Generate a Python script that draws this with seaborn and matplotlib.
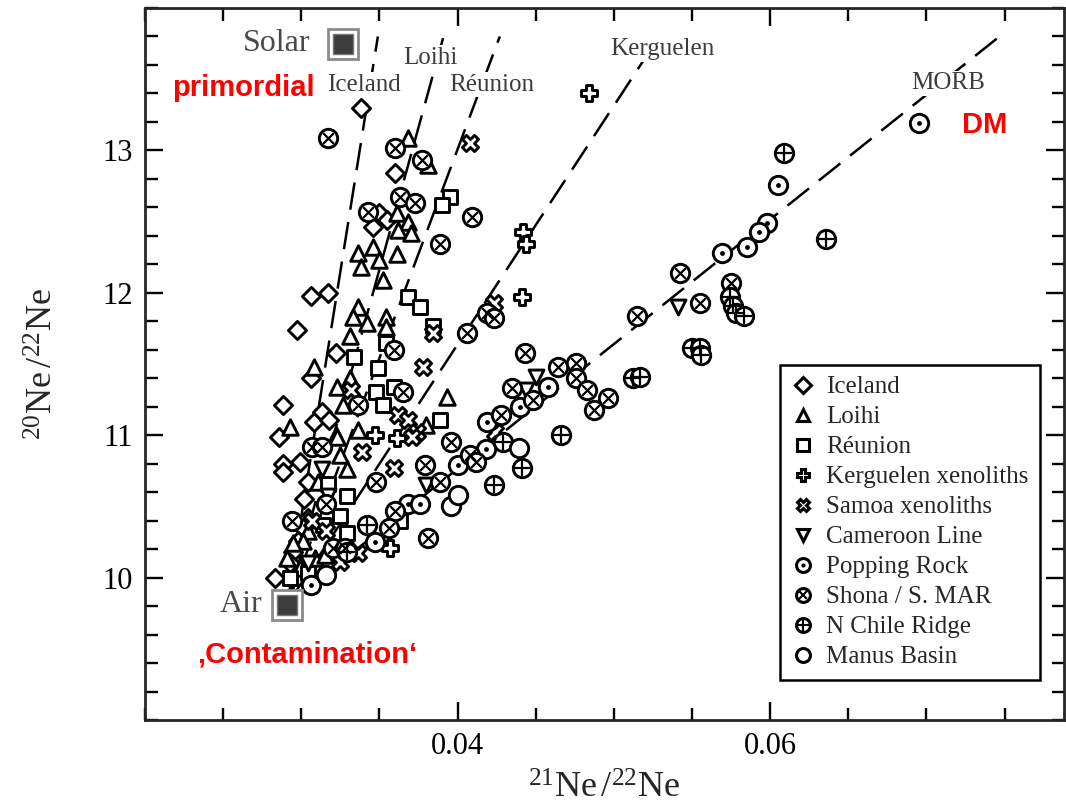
import numpy as np
import pandas as pd
import matplotlib
matplotlib.use("Agg")
import matplotlib.pyplot as plt
import seaborn as sns
from matplotlib.lines import Line2D
from matplotlib.ticker import FixedLocator, MultipleLocator

# neon isotope data: x = 21Ne/22Ne, y = 20Ne/22Ne
iceland_x = [0.0338, 0.0360, 0.0350, 0.0355, 0.0346, 0.0306, 0.0317, 0.0297, 0.0322, 0.0306, 0.0288, 0.0286, 0.0288,
             0.0288, 0.0308, 0.0313, 0.0318, 0.0299, 0.0304, 0.0302, 0.0304, 0.0301, 0.0298, 0.0295, 0.0293, 0.0283]
iceland_y = [13.30, 12.84, 12.56, 12.51, 12.46, 11.98, 12.00, 11.74, 11.58, 11.40, 11.21, 10.99, 10.80,
             10.74, 11.09, 11.16, 11.11, 10.81, 10.67, 10.55, 10.42, 10.35, 10.26, 10.18, 10.10, 10.00]

loihi_x = [0.0368, 0.0381, 0.0361, 0.0368, 0.0362, 0.0370, 0.0346, 0.0336, 0.0338, 0.0350, 0.0352, 0.0361, 0.0293,
           0.0308, 0.0336, 0.0333, 0.0342, 0.0354, 0.0354, 0.0331, 0.0323, 0.0331, 0.0327, 0.0322, 0.0336, 0.0393,
           0.0380, 0.0323, 0.0325, 0.0329, 0.0311, 0.0304, 0.0301, 0.0295, 0.0291, 0.0309, 0.0315, 0.0299]
loihi_y = [13.09, 12.90, 12.56, 12.50, 12.44, 12.42, 12.32, 12.28, 12.18, 12.23, 12.09, 12.27, 11.06,
           11.48, 11.90, 11.83, 11.79, 11.83, 11.76, 11.70, 11.34, 11.40, 11.21, 11.00, 11.04, 11.27,
           11.07, 10.99, 10.86, 10.76, 10.67, 10.33, 10.26, 10.24, 10.14, 10.14, 10.16, 10.07]

reunion_x = [0.0395, 0.0390, 0.0368, 0.0376, 0.0384, 0.0354, 0.0334, 0.0349, 0.0348, 0.0359, 0.0352, 0.0389, 0.0317,
             0.0329, 0.0325, 0.0314, 0.0329, 0.0293, 0.0304, 0.0363]
reunion_y = [12.67, 12.62, 11.97, 11.90, 11.77, 11.65, 11.55, 11.47, 11.30, 11.34, 11.21, 11.11, 10.66,
             10.57, 10.43, 10.37, 10.31, 10.00, 10.03, 10.40]

kerguelen_x = [0.0484, 0.0442, 0.0444, 0.0441, 0.0347, 0.0361, 0.0357]
kerguelen_y = [13.40, 12.43, 12.34, 11.97, 11.00, 10.98, 10.21]

samoa_x = [0.0408, 0.0384, 0.0378, 0.0423, 0.0332, 0.0362, 0.0368, 0.0374, 0.0371, 0.0339, 0.0359, 0.0307, 0.0316,
           0.0336, 0.0325, 0.0424]
samoa_y = [13.05, 11.72, 11.48, 11.93, 11.32, 11.14, 11.11, 11.02, 10.99, 10.88, 10.77, 10.40, 10.33,
           10.17, 10.11, 11.02]

cameroon_x = [0.0444, 0.0450, 0.0541, 0.0380, 0.0317, 0.0313, 0.0304]
cameroon_y = [11.32, 11.41, 11.90, 10.65, 10.57, 10.76, 10.10]

popping_x = [0.0695, 0.0605, 0.0598, 0.0593, 0.0585, 0.0569, 0.0458, 0.0440, 0.0419, 0.0418, 0.0400, 0.0368, 0.0376,
             0.0347, 0.0306]
popping_y = [13.19, 12.76, 12.49, 12.43, 12.32, 12.28, 11.34, 11.20, 11.09, 10.90, 10.79, 10.52, 10.52,
             10.25, 9.95]

shona_x = [0.0317, 0.0360, 0.0377, 0.0363, 0.0373, 0.0409, 0.0343, 0.0389, 0.0419, 0.0423, 0.0406, 0.0443, 0.0359,
           0.0365, 0.0336, 0.0348, 0.0379, 0.0389, 0.0396, 0.0428, 0.0435, 0.0448, 0.0464, 0.0476, 0.0476, 0.0483,
           0.0487, 0.0496, 0.0515, 0.0542, 0.0555, 0.0575, 0.0360, 0.0356, 0.0381, 0.0408, 0.0412, 0.0307, 0.0313,
           0.0316, 0.0294, 0.0320, 0.0328]
shona_y = [13.09, 13.02, 12.93, 12.67, 12.63, 12.53, 12.57, 12.34, 11.86, 11.82, 11.72, 11.58, 11.60,
           11.30, 11.21, 10.67, 10.79, 10.67, 10.95, 11.14, 11.33, 11.25, 11.48, 11.51, 11.40, 11.32,
           11.18, 11.26, 11.84, 12.14, 11.93, 12.07, 10.47, 10.35, 10.28, 10.86, 10.81, 10.92, 10.92,
           10.52, 10.40, 10.21, 10.21]

chile_x = [0.0609, 0.0636, 0.0574, 0.0576, 0.0578, 0.0583, 0.0550, 0.0555, 0.0556, 0.0512, 0.0517, 0.0466, 0.0429,
           0.0441, 0.0423, 0.0342, 0.0329]
chile_y = [12.98, 12.38, 11.97, 11.91, 11.86, 11.84, 11.61, 11.61, 11.56, 11.40, 11.41, 11.00, 10.95,
           10.77, 10.65, 10.37, 10.18]

manus_x = [0.0439, 0.0396, 0.0400, 0.0316]
manus_y = [10.91, 10.50, 10.58, 10.02]

# end members and mixing lines
air = (0.0291, 9.81)
solar = (0.0327, 13.75)
line_names = ["Iceland", "Loihi", "Réunion", "Kerguelen", "MORB"]
line_end_x = [0.0349, 0.0391, 0.0427, 0.0529, 0.0749]
line_end_y = [13.80, 13.80, 13.80, 13.80, 13.82]
line_label_x = [0.0340, 0.03825, 0.0422, 0.0531, 0.0714]
line_label_y = [13.46, 13.65, 13.46, 13.71, 13.47]

groups = ["Iceland", "Loihi", "Réunion", "Kerguelen xenoliths", "Samoa xenoliths", "Cameroon Line",
          "Popping Rock", "Shona / S. MAR", "N Chile Ridge", "Manus Basin"]
xs = [iceland_x, loihi_x, reunion_x, kerguelen_x, samoa_x, cameroon_x, popping_x, shona_x, chile_x, manus_x]
ys = [iceland_y, loihi_y, reunion_y, kerguelen_y, samoa_y, cameroon_y, popping_y, shona_y, chile_y, manus_y]
base_marker = ["D", "^", "s", "P", "X", "v", "o", "o", "o", "o"]
base_size = [85, 125, 95, 135, 135, 115, 175, 175, 175, 175]
inner_marker = [None, None, None, None, None, None, ".", "x", "+", None]
inner_size = [0, 0, 0, 0, 0, 0, 14, 60, 125, 0]

df = pd.concat([pd.DataFrame({"x": a, "y": b, "group": g}) for a, b, g in zip(xs, ys, groups)])

sns.set_style("ticks")
plt.rcParams["font.family"] = ["Liberation Serif", "DejaVu Serif"]
plt.rcParams["mathtext.fontset"] = "custom"
plt.rcParams["mathtext.rm"] = "Liberation Serif"
plt.rcParams["mathtext.it"] = "Liberation Serif:italic"

fig = plt.figure(figsize=(10.66, 8.09), dpi=100)
ax = fig.add_axes([145 / 1066, 1 - 720 / 809, 919 / 1066, 712 / 809])

# dashed mixing lines from air
for ex, ey in zip(line_end_x, line_end_y):
    ax.plot([air[0], ex], [air[1], ey], color="black", lw=1.8, dashes=(11, 5), zorder=1)

for i, g in enumerate(groups):
    sub = df[df["group"] == g]
    sns.scatterplot(data=sub, x="x", y="y", marker=base_marker[i], s=base_size[i], color="white",
                    edgecolor="black", linewidth=2.1, ax=ax, zorder=3, legend=False)
    if inner_marker[i] is not None:
        ax.scatter(sub["x"], sub["y"], marker=inner_marker[i], s=inner_size[i], color="black",
                   linewidths=1.6, zorder=4)

# air and solar squares
for px, py in [air, solar]:
    ax.plot(px, py, marker="s", ms=22, mfc="white", mec="#8a8a8a", mew=2, zorder=5)
    ax.plot(px, py, marker="s", ms=15, mfc="#3c3c3c", mec="#777777", mew=1, zorder=6)
ax.text(0.0306, solar[1], "Solar", fontsize=23, color="#4a4a4a", ha="right", va="center")
ax.text(0.0275, air[1], "Air", fontsize=23, color="#4a4a4a", ha="right", va="center")

for name, lx, ly in zip(line_names, line_label_x, line_label_y):
    ax.text(lx, ly, name, fontsize=18, color="#3c3c3c", ha="center", va="center", zorder=7,
            bbox=dict(facecolor="white", edgecolor="none", pad=1))

red = dict(color="#ff0000", fontsize=21, fontweight="bold", family=["Liberation Sans", "DejaVu Sans"],
           ha="center", va="center")
ax.text(0.0263, 13.44, "primordial", **red)
ax.text(0.0737, 13.18, "DM", **red)
ax.text(0.0304, 9.46, "\u201aContamination\u2018", **red)

ax.set_xlim(0.02, 0.0788)
ax.set_ylim(9, 14)
ax.xaxis.set_major_locator(FixedLocator([0.04, 0.06]))
ax.xaxis.set_minor_locator(MultipleLocator(0.005))
ax.yaxis.set_major_locator(FixedLocator([10, 11, 12, 13]))
ax.yaxis.set_minor_locator(MultipleLocator(0.2))
ax.xaxis.set_major_formatter(plt.FuncFormatter(lambda v, p: f"{v:.2f}"))
ax.tick_params(which="both", direction="in", top=True, right=True, width=1.7, labelsize=22,
               colors="black", pad=9)
ax.tick_params(which="major", length=13)
ax.tick_params(which="minor", length=9)
for sp in ax.spines.values():
    sp.set_linewidth(2.0)
ax.set_xlabel(r"$^{21}$Ne$\,$/$^{22}$Ne", fontsize=26, labelpad=8)
ax.set_ylabel(r"$^{20}$Ne$\,$/$^{22}$Ne", fontsize=26, labelpad=30)

handles = []
for i, g in enumerate(groups):
    h = Line2D([], [], ls="", marker=base_marker[i], ms=8 if base_marker[i] != "o" else 10,
               mfc="white", mec="black", mew=2.2)
    if inner_marker[i] is not None:
        h = (h, Line2D([], [], ls="", marker=inner_marker[i], ms={".": 3, "x": 6, "+": 9}[inner_marker[i]],
                       color="black", mew=1.5))
    handles.append(h)
leg = ax.legend(handles, groups, loc="upper right", bbox_to_anchor=(0.974, 0.499), fontsize=18,
                frameon=True, fancybox=False, edgecolor="black", framealpha=1, borderpad=0.45,
                labelspacing=0.30, handlelength=0.9, handletextpad=0.5, borderaxespad=0)
leg.get_frame().set_linewidth(1.8)
leg.set_zorder(10)

fig.savefig("out.png", dpi=100)
